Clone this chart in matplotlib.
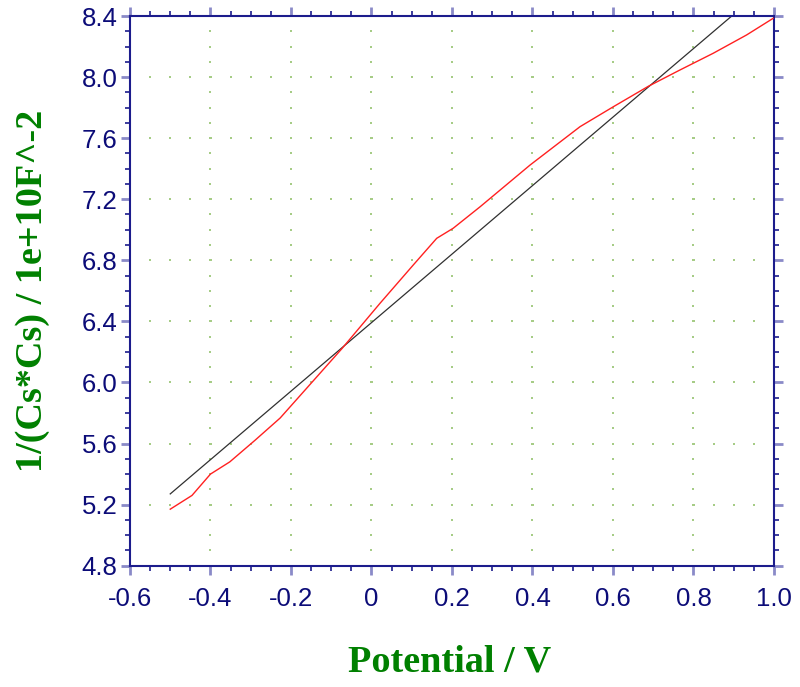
import numpy as np
import matplotlib
matplotlib.use('Agg')
import matplotlib.pyplot as plt

# Mott-Schottky data
potential = [-0.50, -0.446, -0.40, -0.352, -0.29, -0.227, -0.15, -0.074, 0.021, 0.104,
             0.162, 0.203, 0.270, 0.394, 0.518, 0.601, 0.688, 0.766, 0.849, 0.932, 0.998]
inv_cs2 = [5.17, 5.26, 5.40, 5.48, 5.62, 5.767, 5.995, 6.22, 6.518, 6.77,
           6.944, 7.01, 7.151, 7.424, 7.675, 7.806, 7.94, 8.046, 8.156, 8.276, 8.385]

# linear fit line
fit_x = [-0.50, 0.895]
fit_y = [5.27, 8.40]

x_ticks = [-0.6, -0.4, -0.2, 0.0, 0.2, 0.4, 0.6, 0.8, 1.0]
x_labels = ['-0.6', '-0.4', '-0.2', '0', '0.2', '0.4', '0.6', '0.8', '1.0']
y_ticks = [4.8, 5.2, 5.6, 6.0, 6.4, 6.8, 7.2, 7.6, 8.0, 8.4]
y_labels = ['4.8', '5.2', '5.6', '6.0', '6.4', '6.8', '7.2', '7.6', '8.0', '8.4']

NAVY = '#1c1c8c'
LABEL_NAVY = '#0c0c78'
TICK_LIGHT = '#8a8ac8'
GREEN = '#008000'

fig = plt.figure(figsize=(8, 6.87), dpi=100)
ax = fig.add_axes([0.1625, 0.1766, 0.805, 0.8001])

xmin, xmax = -0.6, 1.0
ymin, ymax = 4.8, 8.4

# dotted grid: rows at major y with dots every minor x, columns at major x with dots every minor y
minor_x = np.arange(xmin, xmax + 1e-9, 0.05)
minor_y = np.arange(ymin, ymax + 1e-9, 0.1)
gx, gy = [], []
for yv in y_ticks[1:-1]:
    for xv in minor_x[1:-1]:
        gx.append(xv)
        gy.append(yv)
for xv in x_ticks[1:-1]:
    for yv in minor_y[1:-1]:
        gx.append(xv)
        gy.append(yv)
ax.scatter(gx, gy, s=1.2, marker='s', color='#a6cc86', linewidths=0, zorder=1)

ax.plot(potential, inv_cs2, color='#ff2020', lw=1.0, zorder=3)
ax.plot(fit_x, fit_y, color='#303030', lw=0.9, zorder=2)

ax.set_xlim(xmin, xmax)
ax.set_ylim(ymin, ymax)
ax.set_xticks(x_ticks)
ax.set_xticklabels(x_labels)
ax.set_yticks(y_ticks)
ax.set_yticklabels(y_labels)
ax.set_xticks(minor_x, minor=True)
ax.set_yticks(minor_y, minor=True)

ax.tick_params(which='both', direction='out', top=True, right=True,
               labeltop=False, labelright=False)
ax.tick_params(which='major', length=6.5, width=2, color=TICK_LIGHT,
               labelsize=18.5, labelcolor=LABEL_NAVY)
ax.tick_params(which='minor', length=3.8, width=1.2, color=NAVY)
ax.tick_params(axis='x', which='major', pad=9)
ax.tick_params(axis='y', which='major', pad=2.5)
for lab in ax.get_xticklabels() + ax.get_yticklabels():
    lab.set_family('Liberation Sans')

for sp in ax.spines.values():
    sp.set_color(NAVY)
    sp.set_linewidth(1.5)

ax.set_xlabel('Potential / V', family='Liberation Serif', fontweight='bold',
              fontsize=27.5, color=GREEN, va='center')
ax.set_ylabel('1/(Cs*Cs) / 1e+10F^-2', family='Liberation Serif', fontweight='bold',
              fontsize=27.5, color=GREEN, va='center')
ax.xaxis.set_label_coords(0.496, -0.175)
ax.yaxis.set_label_coords(-0.152, 0.5)

fig.savefig('out.png', dpi=100)
